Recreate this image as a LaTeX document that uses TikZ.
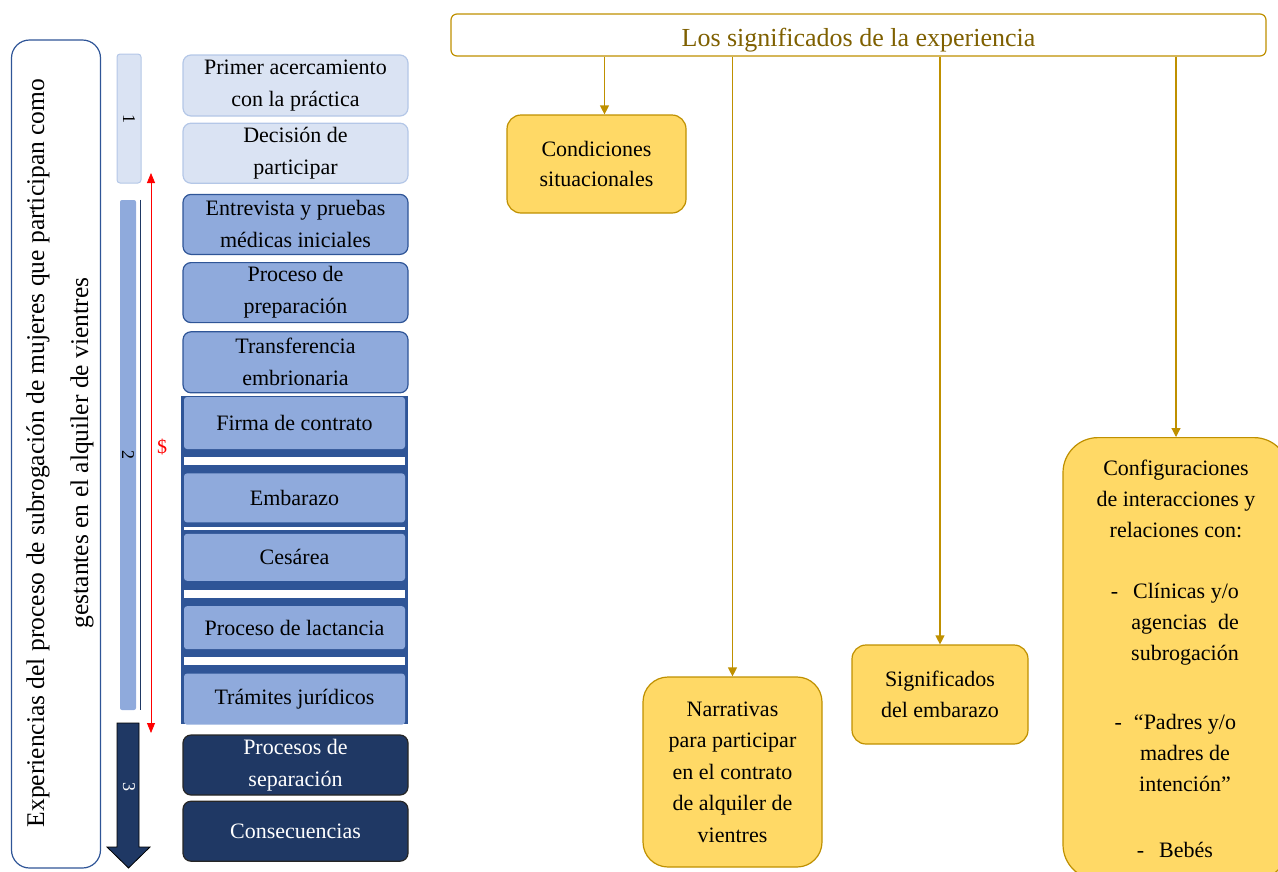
\documentclass[tikz,border=0pt]{standalone}
\usepackage{fontspec}
\setmainfont{Liberation Serif}
\usetikzlibrary{
arrows.meta,
positioning
}
\tikzset{>=latex}
\definecolor{azul}{HTML}{2F5597}
\definecolor{azulclaro}{HTML}{DAE3F3}
\definecolor{bordeclaro}{HTML}{B4C7E7}
\definecolor{azulmedio}{HTML}{8FAADC}
\definecolor{marino}{HTML}{1F3864}
\definecolor{oro}{HTML}{BF9000}
\definecolor{amarillo}{HTML}{FFD966}
\definecolor{ocre}{HTML}{7F6000}

\begin{document}
\begin{tikzpicture}[x=1pt, y=-1pt,
	every node/.style={font=\fontsize{22}{32}\selectfont, align=center, inner sep=0pt},
	claro/.style={draw=bordeclaro, fill=azulclaro, line width=1.2pt, rounded corners=8pt, minimum width=225pt, minimum height=60pt},
	medio/.style={draw=azul, fill=azulmedio, line width=1.2pt, rounded corners=8pt, minimum width=225pt, minimum height=60pt},
	tira/.style={fill=azulmedio, rounded corners=3pt, minimum width=221pt},
	oscuro/.style={draw=black!85, fill=marino, text=white, line width=1.2pt, rounded corners=8pt, minimum width=225pt, minimum height=60pt},
	tema/.style={draw=oro, fill=amarillo, line width=1.2pt, rounded corners=14pt, minimum width=179pt},
	flecha/.style={draw=oro, line width=1.2pt, -{Triangle[width=9pt,length=9pt]}},
	numero/.style={rotate=-90, font=\fontsize{18}{20}\selectfont}]
		\useasboundingbox (0,0) rectangle (1278,871);
		\clip (0,0) rectangle (1278,871);

		% eje de la experiencia
		\node[draw=azul, line width=1.2pt, rounded corners=18pt, minimum width=89pt, minimum height=828pt] (eje) at (56,454) {};
		\node[rotate=90, font=\fontsize{25.5}{44}\selectfont] (ejetexto) at (60,453) {Experiencias del proceso de subrogación de mujeres que participan como\\gestantes en el alquiler de vientres};

		% fases
		\node[draw=bordeclaro, fill=azulclaro, line width=1pt, rounded corners=3pt, numero, minimum width=129pt, minimum height=24pt] (fase1) at (129,118.5) {1};
		\node[fill=azulmedio, rounded corners=2pt, numero, minimum width=510pt, minimum height=16pt] (fase2) at (128,455) {2};
		\draw[marino, line width=1.2pt] ([xshift=4pt]fase2.north west) -- ([xshift=4pt]fase2.north east);
		\fill[marino, draw=black, line width=0.8pt] (117,723) -- (139,723) -- (139,847) -- (150,847) -- (128.5,868) -- (107,847) -- (117,847) -- cycle;
		\node[numero, text=white] (fase3) at (129,787) {3};

		\coordinate (pago1) at (151,173);
		\coordinate (pago2) at (151,733);
		\draw[red, line width=0.8pt, {Triangle[width=8pt,length=10pt]}-{Triangle[width=8pt,length=10pt]}] (pago1) -- (pago2);
		\node[text=red, font=\fontsize{20}{22}\selectfont] (pago) at (162,447) {\$};

		% etapas
		\node[claro, minimum height=61pt] (primer) at (295.5,85.5) {Primer acercamiento\\con la práctica};
		\node[claro, below=6pt of primer] (decision) {Decisión de\\participar};
		\node[medio, below=10pt of decision] (entrevista) {Entrevista y pruebas\\médicas iniciales};
		\node[medio, below=7pt of entrevista] (preparacion) {Proceso de\\preparación};
		\node[medio, below=8pt of preparacion, minimum height=61pt] (transferencia) {Transferencia\\embrionaria};

		\node[draw=azul, fill=azul, line width=2pt, minimum width=225pt, minimum height=326pt] (contrato) at (294.5,560) {};
		\node[tira, minimum height=52pt] (firma) at (294.5,423) {Firma de contrato};
		\node[tira, minimum height=49pt, below=24pt of firma] (embarazo) {Embarazo};
		\node[tira, minimum height=47pt, below=11pt of embarazo] (cesarea) {Cesárea};
		\node[tira, minimum height=43pt, below=25pt of cesarea] (lactancia) {Proceso de lactancia};
		\node[tira, minimum height=51pt, below=24pt of lactancia] (tramites) {Trámites jurídicos};
		\foreach \nodo/\ini/\fin in {firma/8/16, embarazo/4/7, cesarea/9/17, lactancia/8/16}
			\fill[white] ([yshift=-\ini pt]\nodo.south west) rectangle ([yshift=-\fin pt]\nodo.south east);

		\node[oscuro] (separacion) at (295.5,765) {Procesos de\\separación};
		\node[oscuro, below=5pt of separacion] (consecuencias) {Consecuencias};

		% significados
		\node[draw=oro, fill=white, line width=1.2pt, rounded corners=6pt, minimum width=815pt, minimum height=42pt, text=ocre, font=\fontsize{26}{30}\selectfont, text height=24pt, text depth=2pt] (significados) at (858.5,35) {Los significados de la experiencia};

		\node[tema, minimum height=98pt, font=\fontsize{22}{30}\selectfont] (condiciones) at (596.5,164) {Condiciones\\situacionales};
		\node[tema, minimum height=190pt, rounded corners=25pt, font=\fontsize{22}{31.5}\selectfont] (narrativas) at (732.5,772) {Narrativas\\para participar\\en el contrato\\de alquiler de\\vientres};
		\node[tema, minimum width=176pt, minimum height=99pt, font=\fontsize{22}{31}\selectfont] (embarazosig) at (940,694.5) {Significados\\del embarazo};
		\node[tema, anchor=north, minimum width=226pt, minimum height=442pt, rounded corners=35pt, font=\fontsize{22}{31}\selectfont] (configuraciones) at (1176,437) {Configuraciones\\de interacciones y\\relaciones con:\\[30pt]
			\hspace*{20pt}\llap{-\hspace{15pt}}Clínicas y/o\\
			\hspace*{18pt}agencias\ \ de\\
			\hspace*{18pt}subrogación\\[38pt]
			\hspace*{18pt}\llap{-\hspace{12pt}}“Padres y/o\\
			\hspace*{18pt}madres de\\
			\hspace*{18pt}intención”\\[35pt]
			\hspace*{20pt}\llap{-\hspace{15pt}}Bebés};

		\coordinate (cond) at ([xshift=8pt]condiciones.north);
		\draw[flecha] (significados.south -| cond) -- (cond);
		\draw[flecha] (significados.south -| narrativas.north) -- (narrativas.north);
		\draw[flecha] (significados.south -| embarazosig.north) -- (embarazosig.north);
		\draw[flecha] (significados.south -| configuraciones.north) -- (configuraciones.north);
	\end{tikzpicture}
\end{document}
